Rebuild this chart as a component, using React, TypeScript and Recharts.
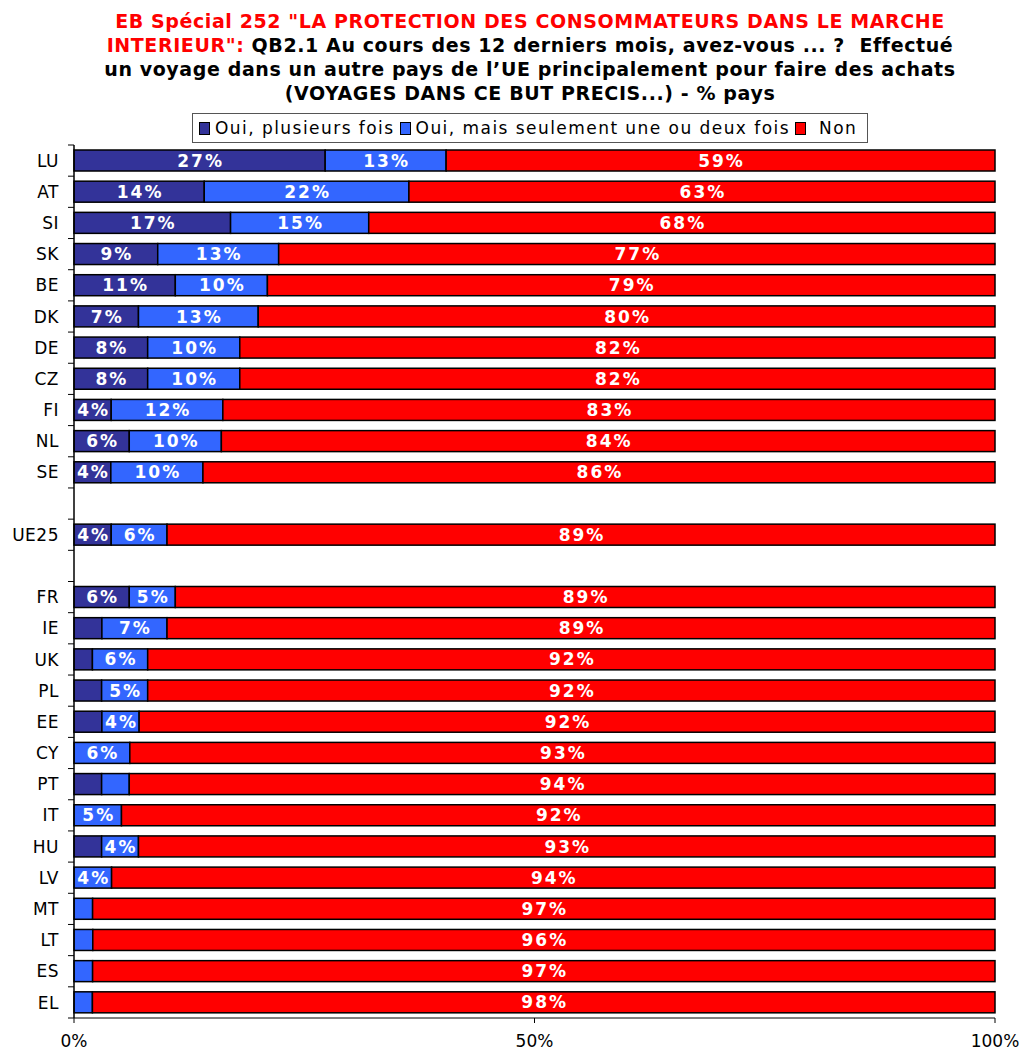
import React from 'react';
import { BarChart, Bar, XAxis, YAxis, Legend } from 'recharts';

const categories = ['LU','AT','SI','SK','BE','DK','DE','CZ','FI','NL','SE','','UE25',' ','FR','IE','UK','PL','EE','CY','PT','IT','HU','LV','MT','LT','ES','EL'];
const ouiPlusieurs = [27,14,17,9,11,7,8,8,4,6,4,0,4,0,6,3,2,3,3,0,3,0,3,0,0,0,0,0];
const ouiUneDeux = [13,22,15,13,10,13,10,10,12,10,10,0,6,0,5,7,6,5,4,6,3,5,4,4,2,2,2,2];
const non = [59,63,68,77,79,80,82,82,83,84,86,0,89,0,89,89,92,92,92,93,94,92,93,94,97,96,97,98];
const xTicks = [0, 0.5, 1];

const seriesNames = ['Oui, plusieurs fois', 'Oui, mais seulement une ou deux fois', 'Non'];
const colors = ['#333399', '#3366FF', '#FF0000'];

const data = categories.map((name, i) => ({
  name,
  oui1: ouiPlusieurs[i],
  oui2: ouiUneDeux[i],
  non: non[i],
}));

const FONT = '"DejaVu Sans", Verdana, sans-serif';
const PLOT_TOP = 145;
const PLOT_BOTTOM = 1018;
const BAND = (PLOT_BOTTOM - PLOT_TOP) / categories.length;

const makeShape = (key: string, fill: string) => (props: any) => {
  const { x, y, width, height, payload } = props;
  if (!width || width <= 0.01) return <g />;
  const v = payload ? payload[key] : 0;
  return (
    <g>
      <rect x={x} y={y} width={width} height={height} fill={fill} stroke="#000" strokeWidth={1.5} />
      {v >= 4 && (
        <text
          x={x + width / 2 + 1}
          y={y + height / 2}
          dy="0.36em"
          textAnchor="middle"
          fill="#fff"
          fontFamily={FONT}
          fontWeight="bold"
          fontSize={17}
          letterSpacing={2}
        >
          {v}%
        </text>
      )}
    </g>
  );
};

const YTick = (props: any) => {
  const { y, payload, index } = props;
  const top = y - BAND / 2;
  return (
    <g>
      <line x1={68} x2={74} y1={top} y2={top} stroke="#000" strokeWidth={1} />
      {index === categories.length - 1 && (
        <line x1={68} x2={74} y1={y + BAND / 2} y2={y + BAND / 2} stroke="#000" strokeWidth={1} />
      )}
      <text x={59} y={y} dy="0.36em" textAnchor="end" fill="#000" fontFamily={FONT} fontSize={17} letterSpacing={0.5}>
        {payload.value.trim()}
      </text>
    </g>
  );
};

const XTick = (props: any) => {
  const { x, payload } = props;
  return (
    <g>
      <line x1={x} x2={x} y1={PLOT_BOTTOM} y2={PLOT_BOTTOM + 5} stroke="#000" strokeWidth={1} />
      <text x={x} y={1047} textAnchor="middle" fill="#000" fontFamily={FONT} fontSize={17}>
        {`${Math.round(payload.value * 100)}%`}
      </text>
    </g>
  );
};

const LegendBox = () => (
  <div
    style={{
      width: 676,
      height: 30,
      border: '1px solid #555',
      background: '#fff',
      display: 'flex',
      alignItems: 'center',
      boxSizing: 'border-box',
      paddingLeft: 6,
      fontFamily: FONT,
      fontSize: 17,
      letterSpacing: 1.45,
      color: '#000',
      whiteSpace: 'nowrap',
    }}
  >
    {seriesNames.map((n, i) => (
      <span key={n} style={{ display: 'flex', alignItems: 'center', marginLeft: i === 0 ? 0 : 5 }}>
        <span
          style={{
            display: 'inline-block',
            width: 9,
            height: 11,
            background: colors[i],
            border: '1.5px solid #000',
            marginRight: i === 2 ? 13 : 5,
          }}
        />
        <span>{n}</span>
      </span>
    ))}
  </div>
);

export default function App() {
  return (
    <div style={{ position: 'absolute', left: 0, top: 0, width: 1025, height: 1053, background: '#fff' }}>
      <div
        style={{
          position: 'absolute',
          left: 0,
          top: 9,
          width: 1060,
          textAlign: 'center',
          fontFamily: FONT,
          fontWeight: 'bold',
          fontSize: 19,
          letterSpacing: 0.6,
          lineHeight: '24px',
          color: '#000',
        }}
      >
        <div style={{ color: '#FF0000' }}>EB Spécial 252 "LA PROTECTION DES CONSOMMATEURS DANS LE MARCHE</div>
        <div>
          <span style={{ color: '#FF0000' }}>INTERIEUR":</span> QB2.1 Au cours des 12 derniers mois, avez-vous ... ?&nbsp; Effectué
        </div>
        <div>un voyage dans un autre pays de l’UE principalement pour faire des achats</div>
        <div>(VOYAGES DANS CE BUT PRECIS...) - % pays</div>
      </div>
      <BarChart
        width={1025}
        height={1053}
        data={data}
        layout="vertical"
        stackOffset="expand"
        barCategoryGap={5}
        margin={{ top: PLOT_TOP, right: 30, bottom: 0, left: 0 }}
      >
        <XAxis
          type="number"
          domain={[0, 1]}
          ticks={xTicks}
          height={1053 - PLOT_BOTTOM}
          axisLine={{ stroke: '#808080', strokeWidth: 2 }}
          tickLine={false}
          tick={<XTick />}
          interval={0}
        />
        <YAxis
          type="category"
          dataKey="name"
          width={74}
          interval={0}
          axisLine={{ stroke: '#000', strokeWidth: 1.5 }}
          tickLine={false}
          tick={<YTick />}
        />
        <Legend
          layout="horizontal"
          verticalAlign="middle"
          align="center"
          content={<LegendBox />}
          wrapperStyle={{ position: 'absolute', top: 113, left: 192, width: 676, height: 30 }}
        />
        <Bar dataKey="oui1" name={seriesNames[0]} stackId="a" fill={colors[0]} isAnimationActive={false} shape={makeShape('oui1', colors[0])} />
        <Bar dataKey="oui2" name={seriesNames[1]} stackId="a" fill={colors[1]} isAnimationActive={false} shape={makeShape('oui2', colors[1])} />
        <Bar dataKey="non" name={seriesNames[2]} stackId="a" fill={colors[2]} isAnimationActive={false} shape={makeShape('non', colors[2])} />
      </BarChart>
    </div>
  );
}
